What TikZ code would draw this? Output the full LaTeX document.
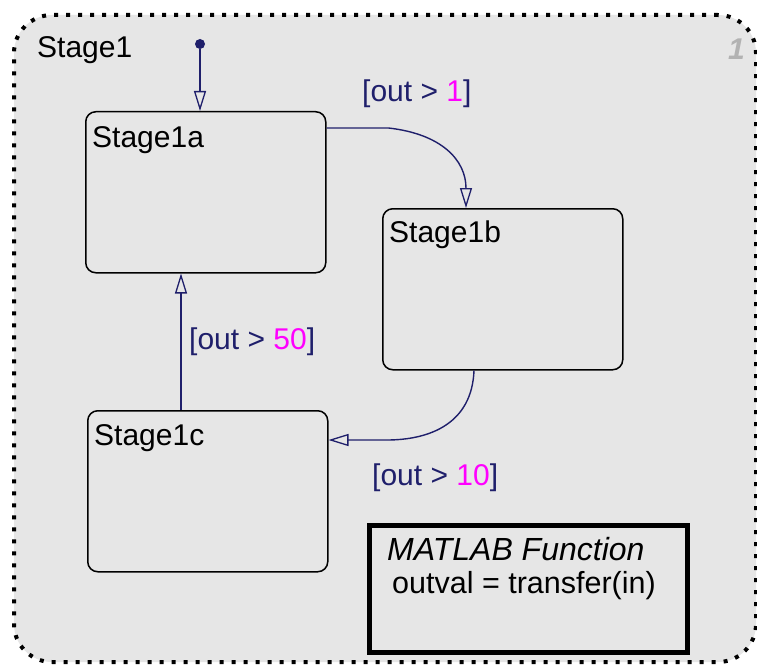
\documentclass[tikz,border=0pt]{standalone}
\usepackage{fontspec}
\setmainfont{Liberation Sans}
\usetikzlibrary{arrows.meta,calc}
\definecolor{bg}{HTML}{E6E6E6}
\definecolor{navy}{HTML}{1F1F6B}
\definecolor{mag}{HTML}{FF00FF}
\begin{document}
\begin{tikzpicture}[x=1pt,y=-1pt,
  outerbox/.style={draw=black, fill=bg, line width=4pt, dash pattern=on 4pt off 8pt, rounded corners=38pt, minimum width=742pt, minimum height=647pt, inner sep=0pt, anchor=north west},
  state/.style={draw=black, line width=1.5pt, rounded corners=10pt, minimum width=240pt, minimum height=161pt, inner sep=0pt, anchor=north west},
  fnbox/.style={draw=black, line width=5pt, minimum width=318pt, minimum height=127pt, inner sep=0pt, anchor=north west},
  txt/.style={anchor=base west, inner sep=0pt, font=\fontsize{30}{36}\selectfont},
  trans/.style={draw=navy, line width=1.4pt, -{Triangle[open, length=20pt, width=12pt, line width=1.3pt]}},
  guard/.style={txt, text=navy}]
\useasboundingbox (0,0) rectangle (757,666);
\fill[white] (0,0) rectangle (757,666);
\node[outerbox] (stage1) at (12,13) {};
\node[anchor=base east, inner sep=0pt, text=black!30, font=\fontsize{30}{36}\selectfont\bfseries\itshape] (num) at (745,60) {1};
\node[txt] (t1) at (37,58) {Stage1};

\node[state] (s1a) at (85,111) {};
\node[state] (s1b) at (382,208) {};
\node[state] (s1c) at (87,410) {};
\node[fnbox] (fn) at (367,523) {};

\node[txt] (t1a) at ($(s1a.north west)+(7,36)$) {Stage1a};
\node[txt] (t1b) at ($(s1b.north west)+(7,34)$) {Stage1b};
\node[txt] (t1c) at ($(s1c.north west)+(7,35)$) {Stage1c};
\node[txt, font=\fontsize{32}{38}\selectfont\itshape] (fn1) at ($(fn.north west)+(20,37)$) {MATLAB Function};
\node[txt, font=\fontsize{30.5}{36}\selectfont] (fn2) at ($(fn.north west)+(25,70)$) {outval = transfer(in)};

% default transition
\node[circle, fill=navy, inner sep=0pt, minimum size=10pt] (init) at (200,44) {};
\draw[trans] (init) -- (init |- s1a.north);

% Stage1a -> Stage1b
\coordinate (a1) at ($(s1a.north east)+(0,17)$);
\coordinate (b1) at ($(s1b.north west)+(84,0)$);
\draw[trans] (a1) -- ++(62,0) .. controls ($(a1)+(115,6)$) and ($(b1)+(0,-48)$) .. (b1);
\node[guard] (g1) at (362,102) {[out > \textcolor{mag}{1}]};

% Stage1b -> Stage1c
\coordinate (b2) at ($(s1b.south west)+(92,0)$);
\coordinate (c1) at ($(s1c.north east)+(0,30)$);
\draw[trans] (b2) .. controls ($(b2)+(-2,52)$) and ($(c1)+(103,0)$) .. ($(c1)+(58,0)$) -- (c1);
\node[guard] (g2) at (372,485) {[out > \textcolor{mag}{10}]};

% Stage1c -> Stage1a
\coordinate (c2) at ($(s1c.north west)+(94,0)$);
\draw[trans] (c2) -- (c2 |- s1a.south);
\node[guard] (g3) at (189,349) {[out > \textcolor{mag}{50}]};
\end{tikzpicture}
\end{document}
